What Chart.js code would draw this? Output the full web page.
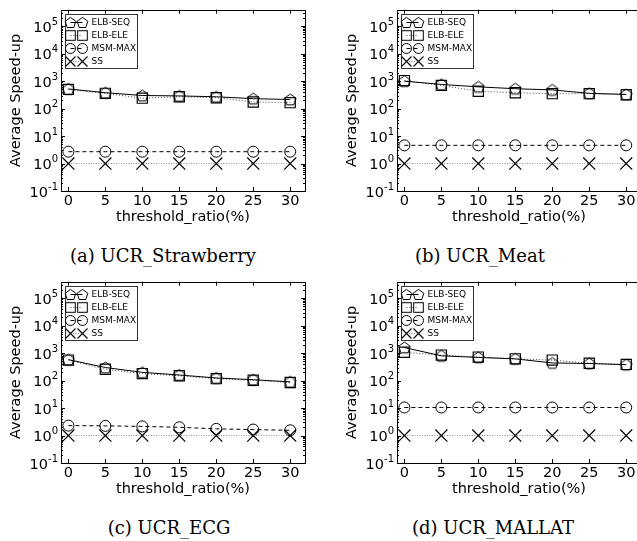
<!DOCTYPE html>
<html>
<head>
<meta charset="utf-8">
<script src="https://cdn.jsdelivr.net/npm/chart.js@4.4.1/dist/chart.umd.min.js"></script>
<style>
  html, body { margin: 0; padding: 0; background: #fff; }
  body { width: 637px; height: 541px; overflow: hidden; position: relative; }
  canvas { position: absolute; }
  .cap { position: absolute; font-family: "DejaVu Serif", "Liberation Serif", serif; font-size: 18px; color: #000;
         transform: translate(-50%, -50%); white-space: nowrap; }
</style>
</head>
<body>
<canvas id="ca" width="320" height="235" style="left:0px;top:0px"></canvas>
<canvas id="cb" width="320" height="235" style="left:336px;top:0px"></canvas>
<canvas id="cc" width="320" height="235" style="left:0px;top:272px"></canvas>
<canvas id="cd" width="320" height="235" style="left:336px;top:272px"></canvas>
<div class="cap" style="left:163px;top:255px">(a) UCR_Strawberry</div>
<div class="cap" style="left:480px;top:255px">(b) UCR_Meat</div>
<div class="cap" style="left:169px;top:527px">(c) UCR_ECG</div>
<div class="cap" style="left:493px;top:527px">(d) UCR_MALLAT</div>
<script>
// ---------- data ----------
const thresholdRatio = [0, 5, 10, 15, 20, 25, 30];
const xTickValues = [0, 5, 10, 15, 20, 25, 30];
const yTickValues = [0.1, 1, 10, 100, 1000, 10000, 100000];
const yTickBase = '10';
const yTickExponents = ['-1', '0', '1', '2', '3', '4', '5'];
const seriesNames = ['ELB-SEQ', 'ELB-ELE', 'MSM-MAX', 'SS'];
const xTitle = 'threshold_ratio(%)';
const yTitle = 'Average Speed-up';

const strawberrySEQ = [520, 380, 300, 290, 270, 230, 215];
const strawberryELE = [500, 360, 240, 270, 250, 175, 165];
const strawberryMSM = [2.7, 2.7, 2.7, 2.7, 2.7, 2.7, 2.7];
const strawberrySS  = [1, 1, 1, 1, 1, 1, 1];

const meatSEQ = [1000, 760, 620, 530, 480, 360, 330];
const meatELE = [1050, 700, 430, 380, 350, 350, 320];
const meatMSM = [4.6, 4.6, 4.6, 4.6, 4.6, 4.6, 4.6];
const meatSS  = [1, 1, 1, 1, 1, 1, 1];

const ecgSEQ = [580, 300, 200, 160, 125, 108, 90];
const ecgELE = [560, 260, 180, 150, 118, 103, 85];
const ecgMSM = [2.3, 2.25, 2.15, 2.0, 1.75, 1.65, 1.55];
const ecgSS  = [1, 1, 1, 1, 1, 1, 1];

const mallatSEQ = [1600, 800, 700, 620, 440, 420, 380];
const mallatELE = [1080, 850, 720, 620, 560, 430, 390];
const mallatMSM = [10.5, 10.5, 10.5, 10.5, 10.5, 10.5, 10.5];
const mallatSS  = [1, 1, 1, 1, 1, 1, 1];

// ---------- marker helpers ----------
function pentagonPath(ctx, x, y, r) {
  ctx.beginPath();
  for (let i = 0; i < 5; i++) {
    const a = -Math.PI / 2 + i * 2 * Math.PI / 5;
    const px = x + r * Math.cos(a), py = y + r * Math.sin(a);
    if (i === 0) ctx.moveTo(px, py); else ctx.lineTo(px, py);
  }
  ctx.closePath();
}
const pentImg = document.createElement('canvas');
pentImg.width = 15; pentImg.height = 15;
(function () {
  const c = pentImg.getContext('2d');
  c.strokeStyle = '#000'; c.lineWidth = 1;
  pentagonPath(c, 7.5, 8, 6.0);
  c.stroke();
})();

function drawMarker(ctx, kind, x, y) {
  ctx.save();
  ctx.strokeStyle = '#000';
  ctx.lineWidth = 1;
  ctx.setLineDash([]);
  if (kind === 0) { pentagonPath(ctx, x, y + 0.5, 5.6); ctx.stroke(); }
  else if (kind === 1) { ctx.strokeRect(x - 4.8, y - 4.8, 9.6, 9.6); }
  else if (kind === 2) { ctx.beginPath(); ctx.arc(x, y, 5, 0, 2 * Math.PI); ctx.stroke(); }
  else { ctx.lineWidth = 1.1; ctx.beginPath(); ctx.moveTo(x - 5, y - 5); ctx.lineTo(x + 5, y + 5);
         ctx.moveTo(x + 5, y - 5); ctx.lineTo(x - 5, y + 5); ctx.stroke(); }
  ctx.restore();
}
const lineStyles = [
  { color: '#000', dash: [] },
  { color: '#444', dash: [1, 2] },
  { color: '#000', dash: [4, 3] },
  { color: '#888', dash: [1, 1.5] }
];

// ---------- plugins ----------
const frameTicks = {
  id: 'frameTicks',
  afterDraw(chart) {
    const { ctx, chartArea: a, scales } = chart;
    const xs = scales.x, ys = scales.y;
    ctx.save();
    // y tick labels with superscript exponents
    ctx.fillStyle = '#000';
    yTickValues.forEach((v, i) => {
      const py = ys.getPixelForValue(v);
      const right = a.left - 3;
      ctx.font = '10px "DejaVu Sans"';
      ctx.textAlign = 'right';
      ctx.textBaseline = 'alphabetic';
      const ew = ctx.measureText(yTickExponents[i]).width;
      ctx.fillText(yTickExponents[i], right, py - 1.5);
      ctx.font = '14.5px "DejaVu Sans"';
      ctx.textBaseline = 'middle';
      ctx.fillText(yTickBase, right - ew, py + 2);
    });
    ctx.textAlign = 'left';
    ctx.strokeStyle = '#000';
    ctx.lineWidth = 1;
    ctx.beginPath();
    xTickValues.forEach(v => {
      const px = Math.round(xs.getPixelForValue(v)) + 0.5;
      ctx.moveTo(px, a.bottom); ctx.lineTo(px, a.bottom - 4);
      ctx.moveTo(px, a.top); ctx.lineTo(px, a.top + 4);
    });
    yTickValues.forEach(v => {
      const py = Math.round(ys.getPixelForValue(v)) + 0.5;
      ctx.moveTo(a.left, py); ctx.lineTo(a.left + 4, py);
      ctx.moveTo(a.right, py); ctx.lineTo(a.right - 4, py);
      for (let m = 2; m <= 9; m++) {
        const mv = v * m;
        if (mv > ys.max) break;
        const pm = Math.round(ys.getPixelForValue(mv)) + 0.5;
        ctx.moveTo(a.left, pm); ctx.lineTo(a.left + 2, pm);
        ctx.moveTo(a.right, pm); ctx.lineTo(a.right - 2, pm);
      }
    });
    ctx.stroke();
    ctx.strokeRect(Math.round(a.left) + 0.5, Math.round(a.top) + 0.5,
                   Math.round(a.right - a.left), Math.round(a.bottom - a.top));
    // legend
    const bx = Math.round(a.left) + 4.5, by = Math.round(a.top) + 4.5, bw = 72, bh = 54;
    ctx.fillStyle = '#fff';
    ctx.fillRect(bx, by, bw, bh);
    ctx.strokeStyle = '#333';
    ctx.strokeRect(bx, by, bw, bh);
    ctx.font = '9px "DejaVu Sans"';
    ctx.textBaseline = 'middle';
    ctx.fillStyle = '#000';
    seriesNames.forEach((name, i) => {
      const ry = by + 8 + i * 13;
      const x1 = bx + 5, x2 = bx + 17;
      ctx.save();
      ctx.strokeStyle = lineStyles[i].color;
      ctx.setLineDash(lineStyles[i].dash);
      ctx.beginPath(); ctx.moveTo(x1, ry); ctx.lineTo(x2, ry); ctx.stroke();
      ctx.restore();
      drawMarker(ctx, i, x1, ry);
      drawMarker(ctx, i, x2, ry);
      ctx.fillText(name, bx + 26, ry + 0.5);
    });
    ctx.restore();
  }
};

function pts(arr) { return thresholdRatio.map((x, i) => ({ x: x, y: arr[i] })); }

function makeChart(id, seq, ele, msm, ss) {
  const tickFont = { family: 'DejaVu Sans', size: 14.5 };
  return new Chart(document.getElementById(id), {
    type: 'line',
    data: {
      datasets: [
        { label: seriesNames[0], data: pts(seq), borderColor: '#000', borderWidth: 1,
          pointStyle: pentImg, pointRadius: 6, pointBorderColor: '#000', pointBackgroundColor: 'rgba(0,0,0,0)' },
        { label: seriesNames[1], data: pts(ele), borderColor: '#444', borderWidth: 1, borderDash: [1, 2],
          pointStyle: 'rect', pointRadius: 7.2, pointBorderWidth: 1.2, pointBorderColor: '#000', pointBackgroundColor: 'rgba(0,0,0,0)' },
        { label: seriesNames[2], data: pts(msm), borderColor: '#000', borderWidth: 1, borderDash: [4, 3],
          pointStyle: 'circle', pointRadius: 5.5, pointBorderWidth: 1, pointBorderColor: '#000', pointBackgroundColor: 'rgba(0,0,0,0)' },
        { label: seriesNames[3], data: pts(ss), borderColor: '#888', borderWidth: 1, borderDash: [1, 1.5],
          pointStyle: 'crossRot', pointRadius: 8.5, pointBorderWidth: 1.2, pointBorderColor: '#000', pointBackgroundColor: 'rgba(0,0,0,0)' }
      ]
    },
    options: {
      responsive: false,
      animation: false,
      devicePixelRatio: 1,
      layout: { padding: { top: 2, right: 15, left: 0, bottom: 0 } },
      elements: { line: { tension: 0, fill: false } },
      plugins: { legend: { display: false }, tooltip: { enabled: false } },
      scales: {
        x: {
          type: 'linear', min: -1, max: 32,
          afterBuildTicks: s => { s.ticks = xTickValues.map(v => ({ value: v })); },
          afterFit: s => { s.height = 44; },
          grid: { display: false, drawTicks: false, tickLength: 0 }, border: { display: false },
          ticks: { font: tickFont, color: '#000', padding: 2, maxRotation: 0, autoSkip: false,
                   callback: v => String(v) },
          title: { display: true, text: xTitle, font: tickFont, color: '#000', padding: { top: 0, bottom: 9 } }
        },
        y: {
          type: 'logarithmic', min: 0.1, max: 400000,
          afterBuildTicks: s => { s.ticks = yTickValues.map(v => ({ value: v })); },
          afterFit: s => { s.width = 61; },
          grid: { display: false, drawTicks: false, tickLength: 0 }, border: { display: false },
          ticks: { display: false },
          title: { display: true, text: yTitle, font: tickFont, color: '#000', padding: { top: 8, bottom: 0 } }
        }
      }
    },
    plugins: [frameTicks]
  });
}

makeChart('ca', strawberrySEQ, strawberryELE, strawberryMSM, strawberrySS);
makeChart('cb', meatSEQ, meatELE, meatMSM, meatSS);
makeChart('cc', ecgSEQ, ecgELE, ecgMSM, ecgSS);
makeChart('cd', mallatSEQ, mallatELE, mallatMSM, mallatSS);
</script>
</body>
</html>
